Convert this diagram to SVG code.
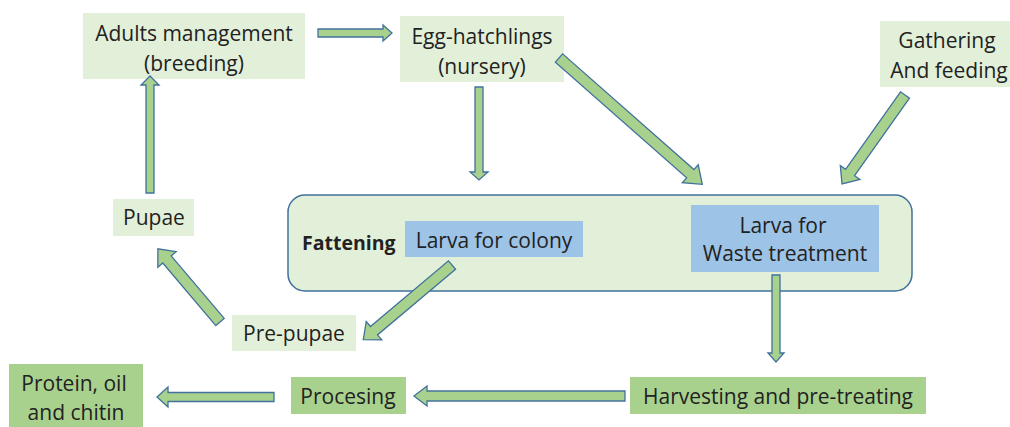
<svg xmlns="http://www.w3.org/2000/svg" width="1010" height="427" viewBox="0 0 1010 427">
<style>
.lg{fill:#e2f0d9}
.dg{fill:#a9d18e}
.bl{fill:#9dc3e6}
.t{font-family:"Open Sans","Noto Sans",sans-serif;font-size:21px;fill:#222;text-anchor:middle;dominant-baseline:central}
.b{font-weight:bold;text-anchor:start;font-size:19.5px}
.ar{fill:#a9d18e;stroke:#41719c;stroke-width:1.3;stroke-linejoin:miter}
</style>
<rect width="1010" height="427" fill="#fff"/>
<g id="fattening">
<rect x="288" y="195" width="624" height="96" rx="17" fill="#e2f0d9" stroke="#41719c" stroke-width="1.5"/>
<text class="t b" x="302" y="242">Fattening</text>
</g>
<g id="adults"><rect class="lg" x="83" y="13" width="222" height="66"/>
<text class="t" x="194" y="33">Adults management</text><text class="t" x="194" y="63">(breeding)</text></g>
<g id="egg"><rect class="lg" x="400" y="16" width="164" height="66"/>
<text class="t" x="482" y="36">Egg-hatchlings</text><text class="t" x="482" y="66">(nursery)</text></g>
<g id="gathering"><rect class="lg" x="880" y="21" width="130" height="66"/>
<text class="t" x="947" y="40">Gathering</text><text class="t" x="949" y="70">And feeding</text></g>
<g id="colony"><rect class="bl" x="405" y="221" width="178" height="36"/>
<text class="t" x="494" y="240">Larva for colony</text></g>
<g id="waste"><rect class="bl" x="691" y="205" width="188" height="67"/>
<text class="t" x="783" y="225">Larva for</text><text class="t" x="785" y="253">Waste treatment</text></g>
<g id="pupae"><rect class="lg" x="113" y="199" width="81" height="37"/>
<text class="t" x="154" y="217">Pupae</text></g>
<g id="prepupae"><rect class="lg" x="232" y="315" width="124" height="36"/>
<text class="t" x="294" y="333">Pre-pupae</text></g>
<g id="protein"><rect class="dg" x="9" y="364" width="134" height="63"/>
<text class="t" x="74" y="383">Protein, oil</text><text class="t" x="76" y="412">and chitin</text></g>
<g id="procesing"><rect class="dg" x="291" y="377" width="115" height="37"/>
<text class="t" x="348" y="396">Procesing</text></g>
<g id="harvesting"><rect class="dg" x="630" y="377" width="296" height="37"/>
<text class="t" x="778" y="396">Harvesting and pre-treating</text></g>
<g id="connectors">
<polygon class="ar" transform="translate(318,33)" points="0,-4 65,-4 65,-8 74,0 65,8 65,4 0,4"/>
<polygon class="ar" transform="translate(479,87) rotate(90)" points="0,-4 85,-4 85,-9 93,0 85,9 85,4 0,4"/>
<polygon class="ar" transform="translate(559,58) rotate(41.4)" points="0,-5.5 175,-5.5 175,-12 191,0 175,12 175,5.5 0,5.5"/>
<polygon class="ar" transform="translate(905,95) rotate(125.3)" points="0,-5.5 95,-5.5 95,-12 109,0 95,12 95,5.5 0,5.5"/>
<polygon class="ar" transform="translate(150,193) rotate(-90)" points="0,-4 108,-4 108,-9 117,0 108,9 108,4 0,4"/>
<polygon class="ar" transform="translate(220,322) rotate(-130.3)" points="0,-5.5 82,-5.5 82,-12 96,0 82,12 82,5.5 0,5.5"/>
<polygon class="ar" transform="translate(452,265) rotate(139.9)" points="0,-5.5 102,-5.5 102,-12 116,0 102,12 102,5.5 0,5.5"/>
<polygon class="ar" transform="translate(776,275) rotate(90)" points="0,-4 78,-4 78,-8 87,0 78,8 78,4 0,4"/>
<polygon class="ar" transform="translate(625,396) rotate(180)" points="0,-5 198,-5 198,-10 211,0 198,10 198,5 0,5"/>
<polygon class="ar" transform="translate(274,397) rotate(180)" points="0,-4.5 106,-4.5 106,-10 117,0 106,10 106,4.5 0,4.5"/>
</g>
</svg>
